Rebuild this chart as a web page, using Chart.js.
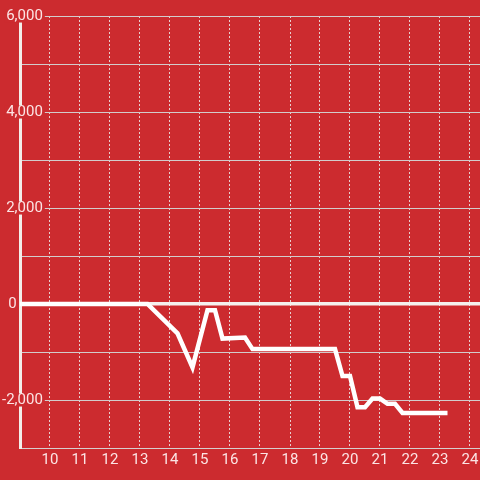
<!DOCTYPE html>
<html>
<head>
<meta charset="utf-8">
<script src="https://cdn.jsdelivr.net/npm/chart.js@4"></script>
<style>
  html, body { margin: 0; padding: 0; background: #cc2b2f; }
  #wrap { width: 480px; height: 480px; }
</style>
</head>
<body>
<div id="wrap"><canvas id="chart"></canvas></div>
<script>
  /* hour of day -> running value */
  var hours  = [9, 13.25, 14.25, 14.75, 15.25, 15.5, 15.75, 16.5, 16.75, 19.5, 19.75, 20, 20.25, 20.5, 20.75, 21, 21.25, 21.5, 21.75, 23.25];
  var values = [0, 0, -610, -1320, -130, -130, -720, -700, -940, -940, -1500, -1500, -2150, -2150, -1970, -1970, -2080, -2080, -2270, -2270];

  /* axis ticks shown with a label */
  var xTickLabels = [10, 11, 12, 13, 14, 15, 16, 17, 18, 19, 20, 21, 22, 23, 24];
  var yTickLabels = [-2000, 0, 2000, 4000, 6000];

  var RED = '#cc2b2f';
  var FONT = 'Roboto';

  function fmt(n) {
    return n.toLocaleString('en-US');
  }

  var points = hours.map(function (h, i) { return { x: h, y: values[i] }; });

  new Chart(document.getElementById('chart'), {
    type: 'line',
    data: {
      datasets: [{
        data: points,
        borderColor: '#ffffff',
        borderWidth: 4.5,
        pointRadius: 0,
        tension: 0,
        fill: false
      }]
    },
    options: {
      responsive: true,
      maintainAspectRatio: false,
      animation: false,
      layout: { padding: { top: 16, right: 0, left: 0, bottom: 0 } },
      plugins: { legend: { display: false }, tooltip: { enabled: false } },
      scales: {
        x: {
          type: 'linear',
          min: 9,
          max: 9 + 460 / 30,
          afterFit: function (s) {
            s.height = 32;
            s.paddingLeft = 0;
            s.paddingRight = 0;
          },
          grid: { color: 'rgba(235,225,225,0.9)', lineWidth: 1, drawTicks: false },
          border: { color: '#d6cfcf', width: 1, dash: [2, 2] },
          ticks: {
            stepSize: 1,
            includeBounds: false,
            maxRotation: 0,
            autoSkip: false,
            padding: 3,
            color: 'rgba(255,240,240,0.94)',
            font: { family: FONT, size: 15 },
            callback: function (v) {
              return xTickLabels.indexOf(v) >= 0 ? String(v) : '';
            }
          }
        },
        y: {
          min: -3000,
          max: 6000,
          afterFit: function (s) { s.width = 20; },
          grid: {
            drawTicks: false,
            color: function (c) { return c.tick && c.tick.value === 0 ? '#f5f0ee' : '#d2cccc'; },
            lineWidth: function (c) { return c.tick && c.tick.value === 0 ? 3.5 : 1; }
          },
          border: { color: '#f3eeea', width: 3 },
          ticks: {
            stepSize: 1000,
            mirror: true,
            crossAlign: 'far',
            padding: -18,
            color: 'rgba(255,240,240,0.94)',
            font: { family: FONT, size: 15, lineHeight: 0.87 },
            showLabelBackdrop: function (c) {
              var v = c.tick ? c.tick.value : null;
              return v !== 0 && yTickLabels.indexOf(v) >= 0;
            },
            backdropColor: RED,
            backdropPadding: { top: 0, bottom: 0, left: 2, right: 2 },
            callback: function (v) {
              if (yTickLabels.indexOf(v) < 0) return '';
              /* the zero label sits further left, next to the axis */
              return v === 0 ? '0\u00a0\u00a0\u00a0\u00a0\u00a0\u00a0\u00a0' : fmt(v);
            }
          }
        }
      }
    }
  });
</script>
</body>
</html>
